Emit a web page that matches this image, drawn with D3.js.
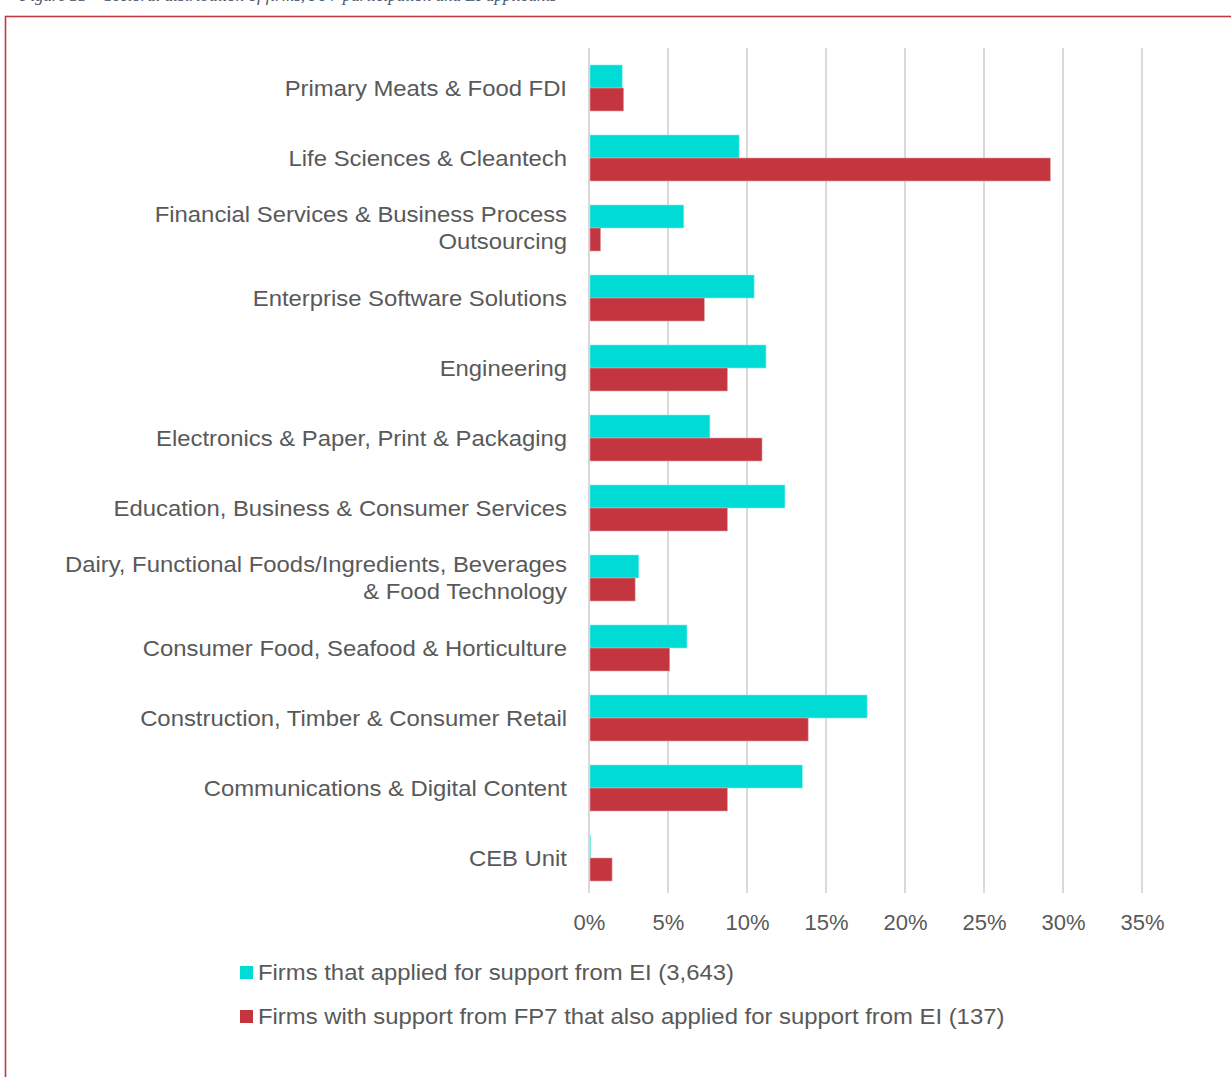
<!DOCTYPE html>
<html>
<head>
<meta charset="utf-8">
<script src="https://cdn.jsdelivr.net/npm/d3@7"></script>
<style>
  html, body { margin: 0; padding: 0; background: #ffffff; }
  svg { display: block; }
</style>
</head>
<body>
<svg id="chart" width="1231" height="1077"></svg>
<script>
// Sector categories, top to bottom; "\n" marks a line break in the label
const categories = [
  "Primary Meats & Food FDI",
  "Life Sciences & Cleantech",
  "Financial Services & Business Process\nOutsourcing",
  "Enterprise Software Solutions",
  "Engineering",
  "Electronics & Paper, Print & Packaging",
  "Education, Business & Consumer Services",
  "Dairy, Functional Foods/Ingredients, Beverages\n& Food Technology",
  "Consumer Food, Seafood & Horticulture",
  "Construction, Timber & Consumer Retail",
  "Communications & Digital Content",
  "CEB Unit"
];

// Share of firms (%) per sector
const appliedEI = [2.1, 9.5, 6.0, 10.45, 11.2, 7.65, 12.4, 3.15, 6.2, 17.6, 13.5, 0.1];
const fp7AndEI  = [2.19, 29.2, 0.73, 7.3, 8.76, 10.95, 8.76, 2.92, 5.11, 13.87, 8.76, 1.46];

const seriesNames = [
  "Firms that applied for support from EI (3,643)",
  "Firms with support from FP7 that also applied for support from EI (137)"
];
const seriesColors = ["#00DCD5", "#C3363F"];

const xTicks = [0, 5, 10, 15, 20, 25, 30, 35];

const captionText = "Figure 33 – Sectoral distribution of firms, FP7 participation and EI applicants";

const svg = d3.select("#chart");
const textColor = "#595959";
const fontFamily = "'Liberation Sans', Arial, sans-serif";
const stretch = 1.085; // slightly wide label lettering

// Frame and the caption above it, running off the top edge
svg.append("text")
  .attr("x", 20).attr("y", 0.5)
  .attr("font-family", "'Liberation Serif', 'Times New Roman', serif")
  .attr("font-style", "italic")
  .attr("font-size", 17)
  .attr("fill", "#44546A")
  .text(captionText);

svg.append("rect")
  .attr("x", 5.5).attr("y", 16.5)
  .attr("width", 1240).attr("height", 1100)
  .attr("fill", "none")
  .attr("stroke", "#C3363F")
  .attr("stroke-width", 1.6);

const plotTop = 53, plotBottom = 893;

const x = d3.scaleLinear().domain([0, 35]).range([589, 1142]);

const y0 = d3.scaleBand()
  .domain(categories)
  .range([plotTop, plotBottom])
  .paddingInner(24 / 70)
  .paddingOuter(12 / 70);

const y1 = d3.scaleBand()
  .domain(seriesNames)
  .range([0, y0.bandwidth()]);

// Vertical gridlines
svg.append("g")
  .selectAll("line")
  .data(xTicks)
  .join("line")
  .attr("x1", d => x(d)).attr("x2", d => x(d))
  .attr("y1", plotTop - 5).attr("y2", plotBottom)
  .attr("stroke", "#D9D9D9")
  .attr("stroke-width", 2);

// Bars
const rows = categories.map((c, i) => ({
  cat: c,
  vals: [appliedEI[i], fp7AndEI[i]]
}));

const groups = svg.append("g")
  .selectAll("g")
  .data(rows)
  .join("g")
  .attr("transform", d => `translate(0,${y0(d.cat)})`);

groups.selectAll("rect")
  .data(d => d.vals.map((v, k) => ({ v, k })))
  .join("rect")
  .attr("x", x(0) + 1)
  .attr("y", d => y1(seriesNames[d.k]))
  .attr("width", d => Math.max(0, x(d.v) - x(0) - 1))
  .attr("height", y1.bandwidth())
  .attr("fill", d => seriesColors[d.k])
  .attr("stroke", d => d.k === 0 ? "#7FEDEA" : "#E0A0A5")
  .attr("stroke-width", 0.6);

// Category labels
const catLabels = svg.append("g")
  .selectAll("text")
  .data(categories)
  .join("text")
  .attr("text-anchor", "end")
  .attr("font-family", fontFamily)
  .attr("font-size", 22)
  .attr("fill", textColor)
  .attr("transform", d => `translate(567,${y0(d) + y0.bandwidth() / 2}) scale(${stretch},1)`);

catLabels.each(function (d) {
  const lines = d.split("\n");
  const lineH = 27;
  const start = -(lines.length - 1) * lineH / 2;
  d3.select(this).selectAll("tspan")
    .data(lines)
    .join("tspan")
    .attr("x", 0)
    .attr("y", (l, i) => start + i * lineH)
    .attr("dy", "0.35em")
    .text(l => l);
});

// X axis tick labels
const xAxis = d3.axisBottom(x)
  .tickValues(xTicks)
  .tickFormat(d => d + "%")
  .tickSize(0)
  .tickPadding(0);

const axisG = svg.append("g")
  .attr("transform", `translate(0,${plotBottom + 21})`)
  .call(xAxis);
axisG.select(".domain").remove();
axisG.selectAll("text")
  .attr("font-family", fontFamily)
  .attr("font-size", 22)
  .attr("fill", textColor)
  .attr("dy", "0.72em");

// Legend
const legend = svg.append("g")
  .selectAll("g")
  .data(seriesNames)
  .join("g")
  .attr("transform", (d, i) => `translate(240,${972 + i * 44})`);

legend.append("rect")
  .attr("x", 0).attr("y", -6)
  .attr("width", 13).attr("height", 13)
  .attr("fill", (d, i) => seriesColors[i]);

legend.append("text")
  .attr("transform", `translate(18,0) scale(${stretch},1)`)
  .attr("dy", "0.35em")
  .attr("font-family", fontFamily)
  .attr("font-size", 22)
  .attr("fill", textColor)
  .text(d => d);
</script>
</body>
</html>
